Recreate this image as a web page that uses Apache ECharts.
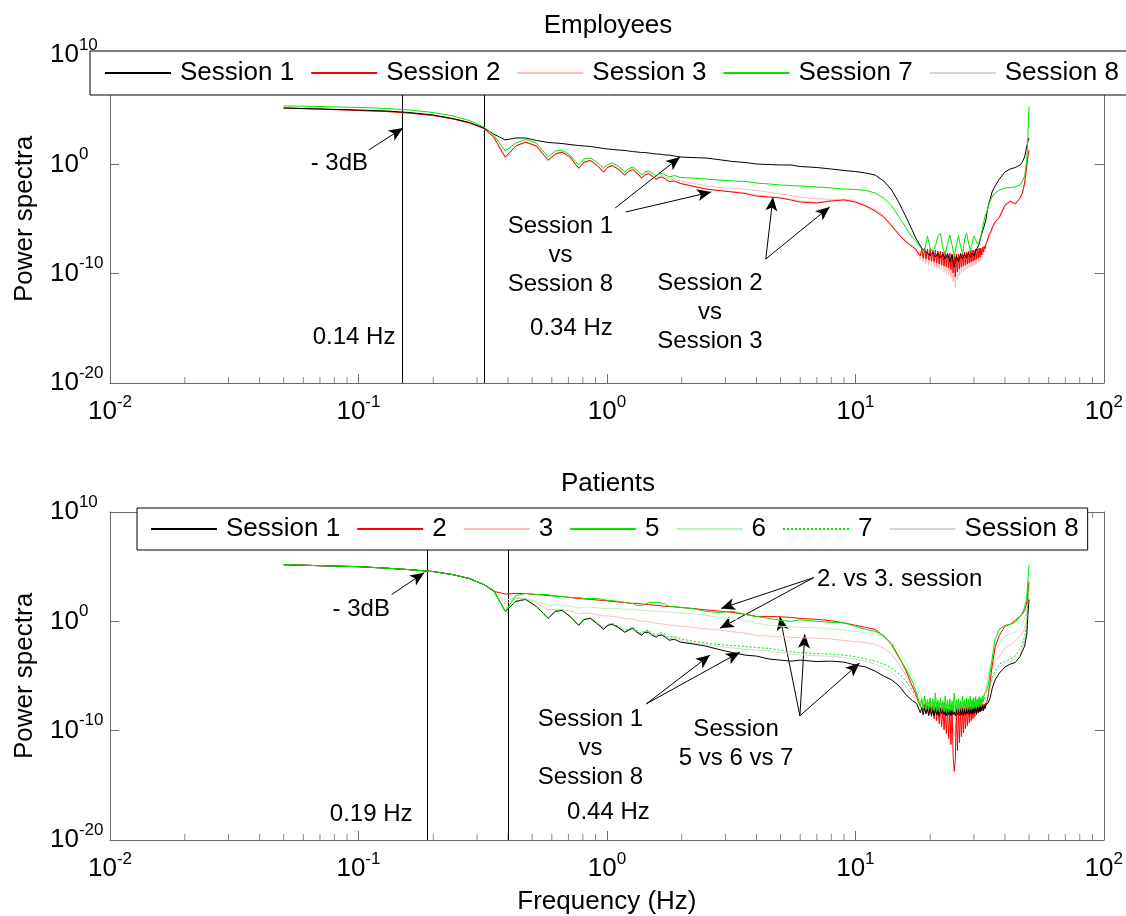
<!DOCTYPE html>
<html>
<head>
<meta charset="utf-8">
<title>Power spectra</title>
<script src="https://cdn.jsdelivr.net/npm/echarts@6/dist/echarts.min.js"></script>
<style>
  html, body { margin: 0; padding: 0; background: #fff; }
  #chart { width: 1126px; height: 916px; }
</style>
</head>
<body>
<div id="chart"></div>
<script>
// frequencies (Hz) outside the 18-35 Hz notch; first SPLIT entries lie below it
const FREQ_BROAD = [
  0.05, 0.07, 0.1, 0.13, 0.16, 0.2, 0.24, 0.28, 0.32, 0.35,
  0.39, 0.43, 0.47, 0.52, 0.58, 0.62, 0.66, 0.71, 0.77, 0.81, 0.86, 0.91, 0.97, 1.01, 1.05, 1.11,
  1.18, 1.22, 1.27, 1.32, 1.38, 1.42, 1.47, 1.52, 1.58, 1.62, 1.67, 1.72, 1.78, 1.87, 1.98,
  2.2, 2.5, 2.8, 3.2, 3.6, 4, 4.5, 5, 5.5, 6, 7, 8, 9, 10, 11, 12, 13, 14, 15, 16, 17,
  36.5, 38, 40, 42, 44, 46, 47, 48, 49, 49.5, 50
];
const SPLIT = 62;
// notch region, read at two resolutions
const NOTCH_COARSE = [
  17.5, 18, 18.5, 19, 19.5, 20, 20.5, 21, 21.5, 22, 22.5, 23, 23.5, 24, 24.5, 25, 25.5, 26, 26.5,
  27, 27.5, 28, 28.5, 29, 29.5, 30, 30.5, 31, 31.5, 32, 32.5, 33, 33.5, 34, 34.5, 35, 35.5
];
const NOTCH_FINE = [
  17.5, 17.75, 18, 18.25, 18.5, 18.75, 19, 19.25, 19.5, 19.75, 20, 20.25,
  20.5, 20.75, 21, 21.25, 21.5, 21.75, 22, 22.25, 22.5, 22.75, 23, 23.25,
  23.5, 23.75, 24, 24.25, 24.5, 24.75, 25, 25.25, 25.5, 25.75, 26, 26.25,
  26.5, 26.75, 27, 27.25, 27.5, 27.75, 28, 28.25, 28.5, 28.75, 29, 29.25,
  29.5, 29.75, 30, 30.25, 30.5, 30.75, 31, 31.25, 31.5, 31.75, 32, 32.25,
  32.5, 32.75, 33, 33.25, 33.5, 33.75, 34, 34.25, 34.5, 34.75, 35, 35.25,
  35.5
];

// ---- Employees: log10 of power ----
const EMP_S1 = [
  5.15, 5.06, 4.97, 4.88, 4.74, 4.51, 4.19, 3.83, 3.32, 2.77,
  2.23, 2.41, 2.41, 2.18, 2.00, 1.95, 1.90, 1.81, 1.72, 1.68, 1.63, 1.54, 1.45, 1.40, 1.36, 1.31,
  1.27, 1.22, 1.17, 1.13, 1.08, 1.08, 1.04, 0.99, 0.94, 0.94, 0.90, 0.85, 0.85, 0.76, 0.67,
  0.62, 0.58, 0.44, 0.26, 0.17, 0.03, -0.02, -0.06, -0.06, -0.20, -0.29, -0.43, -0.56, -0.66, -0.79, -0.98, -1.52, -2.35, -3.54, -4.82, -6.10,
  -1.98, -1.34, -0.70, -0.43, -0.29, -0.06, 0.21, 0.67, 1.68, 2.10, 2.40
];
const EMP_S1_NOTCH = [
  -6.74, -7.20, -7.65, -7.93, -8.11, -8.38, -8.02, -8.48, -8.11, -8.57, -8.20, -8.66, -8.20, -8.93, -8.29, -9.39, -8.38, -8.93, -8.20,
  -8.66, -8.20, -8.57, -8.11, -8.48, -8.11, -8.38, -7.93, -7.84, -7.29, -6.65, -6.10, -5.64, -5.09, -4.18, -3.54, -3.08, -2.53
];
const EMP_S2 = [
  5.15, 5.06, 4.92, 4.83, 4.69, 4.47, 4.15, 3.78, 3.28, 2.50,
  0.67, 1.68, 2.04, 1.68, 0.40, 0.94, 1.13, 0.67, -0.34, 0.21, 0.35, -0.06, -0.70, -0.24, -0.11, -0.43,
  -0.98, -0.66, -0.47, -0.79, -1.25, -0.98, -0.84, -1.07, -1.39, -1.20, -1.16, -1.34, -1.57, -1.52, -1.75,
  -1.98, -2.26, -2.39, -2.53, -2.67, -2.90, -2.99, -3.08, -3.26, -3.45, -3.54, -3.35, -3.26, -3.45, -3.81, -4.27, -4.82, -5.64, -6.46, -7.10, -7.56,
  -5.27, -4.82, -3.72, -3.35, -3.63, -3.08, -2.62, -1.71, -0.06, 0.80, 1.31
];
const EMP_S2_NOTCH = [
  -7.74, -8.02, -7.84, -8.38, -7.74, -8.57, -7.65, -8.66, -7.74, -8.75, -7.74, -8.84,
  -7.84, -8.93, -7.84, -9.02, -7.93, -9.11, -7.93, -9.21, -8.02, -9.30, -8.02, -9.39,
  -8.11, -9.48, -8.11, -9.66, -8.20, -9.94, -8.38, -10.31, -8.20, -9.85, -8.20, -9.57,
  -8.11, -9.39, -8.11, -9.30, -8.02, -9.21, -8.02, -9.11, -7.93, -9.02, -7.93, -8.93,
  -7.84, -8.84, -7.84, -8.75, -7.74, -8.66, -7.74, -8.57, -7.65, -8.48, -7.65, -8.29,
  -7.56, -8.02, -7.47, -7.74, -7.29, -7.38, -6.92, -6.83, -6.46, -6.37, -6.19, -6.01,
  -5.82
];
const EMP_S3 = [
  5.15, 5.06, 4.92, 4.83, 4.69, 4.47, 4.15, 3.78, 3.28, 2.50,
  0.60, 1.70, 2.06, 1.70, 0.35, 0.96, 1.15, 0.69, -0.40, 0.23, 0.37, -0.04, -0.75, -0.20, -0.08, -0.38,
  -1.00, -0.60, -0.40, -0.70, -1.20, -0.88, -0.74, -0.95, -1.30, -1.08, -1.02, -1.18, -1.40, -1.35, -1.52,
  -1.72, -1.95, -2.10, -2.20, -2.28, -2.40, -2.55, -2.70, -2.85, -3.00, -3.15, -3.20, -3.18, -3.35, -3.70, -4.15, -4.70, -5.50, -6.35, -7.00, -7.50,
  -5.35, -4.90, -3.85, -3.45, -3.55, -3.15, -2.70, -1.85, -0.30, 0.60, 1.10
];
const EMP_S3_NOTCH = [
  -7.84, -8.38, -7.93, -8.75, -7.93, -8.93, -7.84, -9.11, -7.93, -9.21, -7.93, -9.30,
  -8.02, -9.39, -8.02, -9.48, -8.11, -9.57, -8.11, -9.66, -8.20, -9.85, -8.20, -9.94,
  -8.29, -10.12, -8.29, -10.31, -8.38, -10.76, -8.57, -11.31, -8.38, -10.58, -8.38, -10.21,
  -8.29, -10.03, -8.29, -9.85, -8.20, -9.66, -8.20, -9.57, -8.11, -9.48, -8.11, -9.39,
  -8.02, -9.30, -8.02, -9.21, -7.93, -9.11, -7.93, -8.93, -7.84, -8.84, -7.84, -8.57,
  -7.74, -8.29, -7.65, -8.02, -7.47, -7.65, -7.10, -7.01, -6.65, -6.55, -6.37, -6.19,
  -6.01
];
const EMP_S7 = [
  5.34, 5.29, 5.20, 5.11, 4.97, 4.74, 4.42, 4.01, 3.41, 2.68,
  1.22, 1.95, 2.27, 1.95, 0.67, 1.22, 1.31, 0.85, -0.06, 0.49, 0.58, 0.21, -0.34, -0.02, 0.12, -0.15,
  -0.70, -0.43, -0.24, -0.52, -0.98, -0.70, -0.61, -0.79, -1.07, -0.88, -0.84, -0.98, -1.16, -1.02, -1.20,
  -1.25, -1.34, -1.43, -1.52, -1.57, -1.71, -1.80, -1.89, -1.94, -1.98, -2.07, -2.16, -2.26, -2.30, -2.39, -2.62, -3.08, -3.81, -4.82, -5.82, -6.74,
  -2.62, -2.35, -2.16, -2.12, -2.07, -1.89, -1.52, -1.07, 0.40, 2.68, 5.30
];
const EMP_S7_NOTCH = [
  -7.01, -7.38, -7.74, -7.93, -6.55, -7.65, -8.02, -7.47, -6.55, -6.28, -7.65, -8.20, -7.29, -6.46, -7.38, -8.48, -7.38, -6.55, -7.47,
  -8.20, -6.92, -6.28, -7.10, -7.93, -7.20, -6.55, -6.46, -7.29, -7.10, -6.55, -5.82, -5.09, -4.54, -4.18, -3.63, -3.26, -2.99
];
const EMP_S8 = [
  5.15, 5.06, 4.92, 4.83, 4.69, 4.47, 4.15, 3.78, 3.28, 2.45,
  0.50, 1.62, 2.00, 1.62, 0.25, 0.88, 1.08, 0.60, -0.48, 0.15, 0.30, -0.12, -0.82, -0.30, -0.16, -0.50,
  -1.08, -0.72, -0.52, -0.85, -1.32, -1.04, -0.90, -1.12, -1.46, -1.26, -1.22, -1.40, -1.62, -1.58, -1.80,
  -2.02, -2.24, -2.36, -2.48, -2.60, -2.80, -2.92, -3.02, -3.18, -3.36, -3.46, -3.30, -3.22, -3.42, -3.78, -4.22, -4.78, -5.60, -6.42, -7.06, -7.52,
  -5.30, -4.85, -3.78, -3.40, -3.60, -3.12, -2.66, -1.78, -0.20, 0.70, 1.20
];
const EMP_S8_NOTCH = [
  -7.80, -8.20, -7.88, -8.55, -7.84, -8.75, -7.74, -8.88, -7.84, -8.98, -7.84, -9.07,
  -7.93, -9.16, -7.93, -9.25, -8.02, -9.34, -8.02, -9.43, -8.11, -9.57, -8.11, -9.66,
  -8.20, -9.80, -8.20, -9.98, -8.29, -10.35, -8.48, -10.80, -8.29, -10.21, -8.29, -9.89,
  -8.20, -9.71, -8.20, -9.57, -8.11, -9.43, -8.11, -9.34, -8.02, -9.25, -8.02, -9.16,
  -7.93, -9.07, -7.93, -8.98, -7.84, -8.88, -7.84, -8.75, -7.74, -8.66, -7.74, -8.43,
  -7.65, -8.15, -7.56, -7.88, -7.38, -7.51, -7.01, -6.92, -6.55, -6.46, -6.28, -6.10,
  -5.91
];

// ---- Patients: log10 of power ----
const PAT_S1 = [
  5.18, 5.09, 5.00, 4.86, 4.73, 4.55, 4.27, 3.91, 3.36, 2.82,
  0.91, 1.82, 2.00, 1.36, 0.27, 0.91, 1.00, 0.45, -0.36, 0.18, 0.27, -0.18, -0.73, -0.36, -0.27, -0.55,
  -1.00, -0.82, -0.64, -1.00, -1.27, -1.00, -1.00, -1.27, -1.45, -1.27, -1.27, -1.45, -1.73, -1.64, -1.91,
  -2.05, -2.27, -2.55, -2.86, -3.09, -3.18, -3.45, -3.55, -3.64, -3.55, -3.68, -3.64, -3.73, -4.00, -4.18, -4.55, -5.00, -5.36, -5.91, -6.73, -7.27,
  -5.36, -4.73, -4.18, -3.91, -3.77, -3.20, -2.73, -2.27, -1.18, 0.64, 2.00
];
const PAT_S1_NOTCH = [
  -7.45, -7.64, -7.73, -8.36, -7.91, -8.55, -7.91, -8.45, -8.00, -8.64, -7.91, -8.55,
  -8.09, -8.64, -8.00, -8.55, -8.09, -8.64, -8.00, -8.45, -8.09, -8.55, -8.18, -8.64,
  -8.09, -8.55, -8.18, -8.64, -8.09, -8.55, -8.27, -8.64, -8.09, -8.55, -8.18, -8.64,
  -8.09, -8.55, -8.00, -8.64, -8.09, -8.55, -8.00, -8.45, -8.09, -8.55, -7.91, -8.45,
  -8.00, -8.45, -7.91, -8.36, -8.00, -8.45, -7.82, -8.36, -7.91, -8.27, -7.82, -8.18,
  -7.73, -8.18, -7.73, -8.00, -7.64, -7.82, -7.64, -7.45, -7.27, -7.09, -6.82, -6.55,
  -6.18
];
const PAT_S2 = [
  5.18, 5.09, 5.00, 4.86, 4.73, 4.55, 4.27, 3.91, 3.36, 2.75,
  2.50, 2.55, 2.55, 2.45, 2.36, 2.32, 2.27, 2.18, 2.09, 2.05, 2.00, 1.95, 1.91, 1.86, 1.82, 1.77,
  1.73, 1.68, 1.64, 1.64, 1.59, 1.55, 1.55, 1.50, 1.45, 1.45, 1.41, 1.36, 1.36, 1.32, 1.27,
  1.18, 1.05, 0.95, 0.82, 0.64, 0.45, 0.45, 0.41, 0.36, 0.27, 0.18, 0.05, -0.14, -0.36, -0.55, -0.73, -1.36, -2.09, -3.27, -4.55, -6.00,
  -2.36, -1.27, -0.45, -0.27, 0.09, 0.45, 0.64, 1.00, 1.73, 2.80, 3.50
];
const PAT_S2_NOTCH = [
  -6.64, -7.09, -7.27, -7.73, -7.55, -8.18, -7.64, -8.36, -7.73, -8.55, -7.73, -8.73,
  -7.82, -8.91, -7.82, -9.09, -7.82, -9.36, -7.91, -9.64, -7.91, -9.91, -7.91, -10.27,
  -8.00, -10.73, -8.00, -11.27, -8.00, -12.36, -13.73, -12.73, -8.00, -11.82, -8.00, -11.09,
  -7.91, -10.55, -7.91, -10.18, -7.91, -9.82, -7.91, -9.55, -7.82, -9.27, -7.82, -9.09,
  -7.82, -8.91, -7.73, -8.73, -7.73, -8.55, -7.73, -8.36, -7.64, -8.27, -7.64, -8.18,
  -7.55, -8.00, -7.55, -7.91, -7.45, -7.64, -7.09, -6.82, -6.18, -5.80, -5.27, -4.70,
  -4.18
];
const PAT_S3 = [
  5.18, 5.09, 5.00, 4.86, 4.73, 4.55, 4.27, 3.91, 3.36, 2.78,
  1.60, 2.10, 2.05, 1.70, 1.05, 1.10, 1.08, 0.95, 0.70, 0.75, 0.72, 0.62, 0.48, 0.50, 0.45, 0.38,
  0.25, 0.25, 0.20, 0.12, 0.02, 0.00, -0.05, -0.10, -0.18, -0.20, -0.24, -0.28, -0.33, -0.38, -0.45,
  -0.55, -0.68, -0.80, -0.95, -1.08, -1.30, -1.35, -1.40, -1.45, -1.50, -1.55, -1.62, -1.75, -1.85, -1.95, -2.10, -2.45, -3.00, -3.90, -5.00, -6.10,
  -3.64, -3.18, -2.45, -2.18, -1.73, -1.36, -1.09, -0.64, 0.18, 1.73, 3.09
];
const PAT_S3_NOTCH = [
  -6.50, -6.80, -7.30, -7.00, -7.70, -7.20, -8.00, -7.30, -8.20, -7.40, -8.40, -7.50, -8.70, -7.55, -9.20, -10.50, -9.20, -7.60, -8.80,
  -7.50, -8.50, -7.45, -8.30, -7.40, -8.10, -7.35, -7.95, -7.30, -7.80, -7.20, -7.50, -6.70, -6.30, -5.60, -4.95, -4.40, -4.05
];
const PAT_S5 = [
  5.18, 5.09, 5.00, 4.86, 4.73, 4.55, 4.27, 3.91, 3.36, 2.82,
  0.91, 2.36, 2.55, 2.45, 2.45, 2.27, 2.27, 2.18, 2.18, 2.09, 2.09, 2.09, 2.00, 1.91, 1.91, 1.82,
  1.73, 1.64, 1.64, 1.45, 1.45, 1.55, 1.73, 1.73, 1.73, 1.73, 1.64, 1.55, 1.36, 1.36, 1.27,
  1.18, 0.91, 0.82, 0.91, 0.64, 0.45, 0.27, 0.09, 0.00, 0.14, 0.00, -0.09, -0.14, -0.45, -0.73, -0.91, -1.27, -2.18, -3.36, -4.36, -5.55,
  -1.64, -0.73, -0.36, -0.27, -0.09, 0.45, 0.73, 1.27, 2.27, 3.82, 5.18
];
const PAT_S5_NOTCH = [
  -6.36, -6.82, -7.00, -7.82, -7.09, -8.00, -6.82, -8.09, -7.18, -8.00, -7.00, -8.18,
  -7.09, -8.09, -6.55, -8.18, -7.18, -8.27, -7.00, -8.18, -7.27, -8.27, -6.82, -8.18,
  -7.18, -8.27, -7.09, -8.18, -7.27, -8.27, -6.55, -8.27, -7.18, -8.18, -7.09, -8.27,
  -7.27, -8.18, -6.82, -8.09, -7.18, -8.18, -7.00, -8.09, -7.09, -8.00, -6.82, -8.09,
  -7.18, -8.00, -7.00, -7.91, -6.91, -7.82, -7.09, -7.82, -6.91, -7.73, -7.00, -7.64,
  -6.82, -7.36, -6.64, -6.82, -6.55, -6.36, -6.18, -5.82, -5.45, -4.90, -4.36, -3.90,
  -3.45
];
const PAT_S6 = [
  5.18, 5.09, 5.00, 4.86, 4.73, 4.55, 4.27, 3.91, 3.36, 2.78,
  1.90, 2.20, 2.10, 1.85, 1.40, 1.50, 1.48, 1.38, 1.20, 1.30, 1.30, 1.25, 1.15, 1.20, 1.20, 1.16,
  1.10, 1.12, 1.10, 1.05, 1.00, 1.00, 0.98, 0.95, 0.92, 0.92, 0.90, 0.87, 0.85, 0.82, 0.78,
  0.73, 0.55, 0.36, 0.23, 0.09, -0.18, -0.36, -0.45, -0.50, -0.55, -0.59, -0.68, -0.82, -0.91, -1.05, -1.18, -1.36, -1.91, -2.73, -3.82, -5.09,
  -2.73, -2.09, -1.36, -1.18, -1.00, -0.55, -0.27, 0.18, 1.09, 2.45, 3.82
];
const PAT_S6_NOTCH = [
  -5.82, -6.27, -6.91, -7.27, -7.09, -7.64, -7.27, -7.91, -7.36, -8.00, -7.45, -8.09, -7.55, -8.18, -7.64, -8.36, -7.64, -8.18, -7.55,
  -8.09, -7.45, -8.00, -7.36, -7.91, -7.27, -7.82, -7.18, -7.64, -7.09, -7.45, -7.00, -7.09, -6.64, -5.64, -4.55, -4.18, -3.45
];
const PAT_S7 = [
  5.18, 5.09, 5.00, 4.86, 4.73, 4.55, 4.27, 3.91, 3.36, 2.82,
  0.95, 1.86, 2.04, 1.40, 0.32, 0.95, 1.04, 0.50, -0.30, 0.24, 0.33, -0.10, -0.64, -0.27, -0.18, -0.45,
  -0.88, -0.70, -0.52, -0.86, -1.10, -0.84, -0.82, -1.08, -1.25, -1.08, -1.05, -1.22, -1.45, -1.38, -1.60,
  -1.80, -2.00, -2.12, -2.22, -2.30, -2.40, -2.48, -2.64, -2.77, -2.86, -2.95, -3.00, -3.09, -3.23, -3.45, -3.64, -3.91, -4.27, -4.82, -5.45, -6.36,
  -4.55, -3.91, -3.64, -3.45, -3.18, -2.55, -2.09, -1.36, -0.09, 2.00, 3.80
];
const PAT_S7_NOTCH = [
  -6.82, -7.09, -7.55, -7.20, -7.70, -7.30, -7.80, -7.35, -7.85, -7.40, -7.90, -7.45, -7.95, -7.50, -7.95, -7.80, -7.95, -7.45, -7.90,
  -7.40, -7.85, -7.35, -7.80, -7.30, -7.75, -7.25, -7.70, -7.20, -7.60, -7.15, -7.45, -7.05, -7.20, -7.00, -6.30, -5.60, -5.10
];
const PAT_S8 = [
  5.18, 5.09, 5.00, 4.86, 4.73, 4.55, 4.27, 3.91, 3.36, 2.80,
  0.92, 1.84, 2.02, 1.38, 0.30, 0.93, 1.02, 0.48, -0.33, 0.21, 0.30, -0.14, -0.68, -0.31, -0.22, -0.50,
  -0.94, -0.76, -0.58, -0.93, -1.18, -0.92, -0.91, -1.17, -1.35, -1.18, -1.16, -1.33, -1.58, -1.50, -1.74,
  -1.98, -2.15, -2.30, -2.45, -2.55, -2.60, -2.70, -2.85, -2.98, -3.05, -3.15, -3.20, -3.30, -3.45, -3.68, -3.90, -4.25, -4.70, -5.30, -6.00, -6.80,
  -4.80, -4.20, -3.85, -3.65, -3.45, -2.90, -2.50, -1.80, -0.60, 1.20, 3.00
];
const PAT_S8_NOTCH = [
  -7.15, -7.40, -7.90, -7.50, -8.10, -7.60, -8.20, -7.65, -8.25, -7.70, -8.30, -7.75, -8.40, -7.80, -8.60, -9.00, -8.60, -7.80, -8.40,
  -7.75, -8.30, -7.70, -8.25, -7.65, -8.20, -7.60, -8.10, -7.55, -8.00, -7.50, -7.85, -7.40, -7.55, -7.20, -6.60, -5.90, -5.30
];

// minor tick positions on the frequency axis
const MINOR_TICKS = [
  0.02, 0.03, 0.04, 0.05, 0.06, 0.07, 0.08, 0.09,
  0.2, 0.3, 0.4, 0.5, 0.6, 0.7, 0.8, 0.9,
  2, 3, 4, 5, 6, 7, 8, 9,
  20, 30, 40, 50, 60, 70, 80, 90
];

// annotations: cut-off lines (Hz), arrows [[f, log10 P] -> [f, log10 P]], texts [text, f, log10 P]
const EMP_VLINES = [0.155, 0.316];
const EMP_ARROWS = [
  [[0.110, 1.31], [0.151, 3.32]],
  [[1.08, -3.99], [1.97, 0.67]],
  [[1.19, -4.36], [2.63, -2.53]],
  [[4.36, -8.66], [4.66, -2.99]],
  [[4.36, -8.66], [7.88, -3.90]]
];
const EMP_TEXTS = [
  ['- 3dB', 0.0838, 0.12],
  ['0.14 Hz', 0.096, -15.79],
  ['0.34 Hz', 0.72, -14.97],
  ['Session 1\nvs\nSession 8', 0.65, -8.29],
  ['Session 2\nvs\nSession 3', 2.60, -13.51]
];
const PAT_VLINES = [0.19, 0.40];
const PAT_ARROWS = [
  [[0.136, 2.45], [0.184, 4.45]],
  [[1.44, -7.55], [2.60, -3.09]],
  [[1.44, -7.55], [3.43, -2.82]],
  [[5.98, -8.64], [4.97, 0.45]],
  [[5.98, -8.64], [6.26, -1.18]],
  [[5.98, -8.64], [10.4, -3.82]],
  [[6.80, 4.0], [2.88, 1.18]],
  [[6.80, 4.0], [2.85, -0.64]]
];
const PAT_TEXTS = [
  ['- 3dB', 0.1026, 1.09],
  ['0.19 Hz', 0.1125, -17.64],
  ['0.44 Hz', 1.014, -17.45],
  ['Session 1\nvs\nSession 8', 0.859, -11.64],
  ['Session\n5 vs 6 vs 7', 3.31, -11.18],
  ['2. vs 3. session', 15.07, 3.82]
];

const FONT = "'Liberation Sans', Arial, sans-serif";
const AXIS_COLOR = '#6a6a6a';
const GREEN = '#00e600';

function check(name, arr, n) {
  if (arr.length !== n) throw new Error(name + ' has ' + arr.length + ' values, expected ' + n);
}
[['EMP_S1', EMP_S1], ['EMP_S2', EMP_S2], ['EMP_S3', EMP_S3], ['EMP_S7', EMP_S7], ['EMP_S8', EMP_S8],
 ['PAT_S1', PAT_S1], ['PAT_S2', PAT_S2], ['PAT_S3', PAT_S3], ['PAT_S5', PAT_S5], ['PAT_S6', PAT_S6],
 ['PAT_S7', PAT_S7], ['PAT_S8', PAT_S8]].forEach(([n, a]) => check(n, a, FREQ_BROAD.length));
[['EMP_S1_NOTCH', EMP_S1_NOTCH], ['EMP_S7_NOTCH', EMP_S7_NOTCH], ['PAT_S3_NOTCH', PAT_S3_NOTCH],
 ['PAT_S6_NOTCH', PAT_S6_NOTCH], ['PAT_S7_NOTCH', PAT_S7_NOTCH], ['PAT_S8_NOTCH', PAT_S8_NOTCH]]
  .forEach(([n, a]) => check(n, a, NOTCH_COARSE.length));
[['EMP_S2_NOTCH', EMP_S2_NOTCH], ['EMP_S3_NOTCH', EMP_S3_NOTCH], ['EMP_S8_NOTCH', EMP_S8_NOTCH],
 ['PAT_S1_NOTCH', PAT_S1_NOTCH], ['PAT_S2_NOTCH', PAT_S2_NOTCH], ['PAT_S5_NOTCH', PAT_S5_NOTCH]]
  .forEach(([n, a]) => check(n, a, NOTCH_FINE.length));

const pt = (f, e) => [f, Math.pow(10, e)];

function spectrumData(broad, notchFreq, notch) {
  const head = FREQ_BROAD.slice(0, SPLIT).map((f, i) => pt(f, broad[i]));
  const mid = notchFreq.map((f, i) => pt(f, notch[i]));
  const tail = FREQ_BROAD.slice(SPLIT).map((f, i) => pt(f, broad[SPLIT + i]));
  return head.concat(mid, tail);
}

const expLabel = v => '{b|10}{s|' + Math.round(Math.log10(v)) + '}';
const RICH = {
  b: { fontSize: 26, fontFamily: FONT, color: '#000', lineHeight: 28 },
  s: { fontSize: 17, fontFamily: FONT, color: '#000', lineHeight: 28, padding: [0, 0, 20, 0] }
};

function spectrum(name, data, color, gi, dash) {
  return {
    type: 'line', name, xAxisIndex: gi * 2, yAxisIndex: gi * 2,
    data,
    symbol: 'none', showSymbol: false, silent: true,
    lineStyle: { color, width: 1, type: dash || 'solid' },
    itemStyle: { color },
    emphasis: { disabled: true }
  };
}

function minorTicks(gi) {
  const base = {
    type: 'scatter', xAxisIndex: gi * 2, yAxisIndex: gi * 2, silent: true, clip: false,
    symbol: 'rect', symbolSize: [1, 6], itemStyle: { color: AXIS_COLOR }, z: 1
  };
  return [
    Object.assign({}, base, { data: MINOR_TICKS.map(f => [f, 1e-20]), symbolOffset: [0, -3] }),
    Object.assign({}, base, { data: MINOR_TICKS.map(f => [f, 1e10]), symbolOffset: [0, 3] })
  ];
}

function notes(gi, vlines, arrows, texts) {
  return [{
    type: 'line', data: [], xAxisIndex: gi * 2, yAxisIndex: gi * 2, silent: true,
    markLine: {
      silent: true, symbol: 'none', label: { show: false }, z: 3,
      lineStyle: { color: '#000', width: 1, type: 'solid' },
      emphasis: { disabled: true },
      data: vlines.map(f => ({ xAxis: f }))
    }
  }, {
    type: 'line', data: [], xAxisIndex: gi * 2, yAxisIndex: gi * 2, silent: true,
    markLine: {
      silent: true, symbol: ['none', 'arrow'], symbolSize: [9, 14], label: { show: false }, z: 3,
      lineStyle: { color: '#000', width: 1, type: 'solid' },
      itemStyle: { color: '#000' },
      emphasis: { disabled: true },
      data: arrows.map(([a, b]) => [{ coord: pt(a[0], a[1]) }, { coord: pt(b[0], b[1]) }])
    },
    markPoint: {
      silent: true, symbol: 'rect', symbolSize: 1, z: 3,
      itemStyle: { color: 'rgba(0,0,0,0)' },
      label: {
        show: true, position: 'inside', formatter: p => p.name,
        color: '#000', fontSize: 24, fontFamily: FONT, lineHeight: 29, align: 'center'
      },
      emphasis: { disabled: true },
      data: texts.map(([t, f, e]) => ({ name: t, coord: pt(f, e) }))
    }
  }];
}

function xAxes(gi, name) {
  const base = {
    type: 'log', logBase: 10, min: 0.01, max: 100, gridIndex: gi,
    axisLine: { show: true, lineStyle: { color: AXIS_COLOR, width: 1 } },
    axisTick: { show: true, inside: true, length: 9, lineStyle: { color: AXIS_COLOR } },
    splitLine: { show: false }
  };
  return [
    Object.assign({}, base, {
      position: 'bottom',
      axisLabel: { show: true, margin: 15, formatter: expLabel, rich: RICH, showMinLabel: true, showMaxLabel: true },
      name: name, nameLocation: 'middle', nameGap: 49,
      nameTextStyle: { fontSize: 26, fontFamily: FONT, color: '#000' }
    }),
    Object.assign({}, base, { position: 'top', axisLabel: { show: false } })
  ];
}

function yAxes(gi) {
  const base = {
    type: 'log', logBase: 10, min: 1e-20, max: 1e10, splitNumber: 3, gridIndex: gi,
    axisLine: { show: true, lineStyle: { color: AXIS_COLOR, width: 1 } },
    axisTick: { show: true, inside: true, length: 9, lineStyle: { color: AXIS_COLOR } },
    splitLine: { show: false }
  };
  return [
    Object.assign({}, base, {
      position: 'left',
      axisLabel: { show: true, align: 'left', margin: 60, formatter: expLabel, rich: RICH, showMinLabel: true, showMaxLabel: true },
      name: 'Power spectra', nameLocation: 'middle', nameGap: 72, nameRotate: 90,
      nameTextStyle: { fontSize: 26, fontFamily: FONT, color: '#000' }
    }),
    Object.assign({}, base, { position: 'right', axisLabel: { show: false } })
  ];
}

const legendBase = {
  orient: 'horizontal', itemWidth: 66, itemHeight: 14, itemGap: 16, z: 20,
  backgroundColor: '#fff', borderColor: '#000', borderWidth: 1,
  selectedMode: false,
  itemStyle: { opacity: 0 },
  textStyle: { fontSize: 26, fontFamily: FONT, color: '#000', padding: [0, 0, 0, 4] }
};

const option = {
  animation: false,
  backgroundColor: '#fff',
  textStyle: { fontFamily: FONT },
  title: [
    { text: 'Employees', left: 608, top: 13, textAlign: 'center', padding: 0,
      textStyle: { fontSize: 26, fontWeight: 'normal', fontFamily: FONT, color: '#000' } },
    { text: 'Patients', left: 608, top: 471, textAlign: 'center', padding: 0,
      textStyle: { fontSize: 26, fontWeight: 'normal', fontFamily: FONT, color: '#000' } }
  ],
  legend: [
    Object.assign({}, legendBase, {
      left: 90, top: 51, width: 1060, padding: [9, 9, 9, 14],
      data: ['Session 1', 'Session 2', 'Session 3', 'Session 7', 'Session 8']
    }),
    Object.assign({}, legendBase, {
      left: 137, top: 508, width: 1000, padding: [8, 9, 8, 13],
      data: ['Session 1', '2', '3', '5', '6', '7', 'Session 8']
    })
  ],
  grid: [
    { left: 110, right: 19, top: 55, height: 328 },
    { left: 110, right: 19, top: 512, height: 330 }
  ],
  xAxis: [...xAxes(0, ''), ...xAxes(1, 'Frequency (Hz)')],
  yAxis: [...yAxes(0), ...yAxes(1)],
  series: [
    ...minorTicks(0),
    ...minorTicks(1),
    spectrum('Session 8', spectrumData(EMP_S8, NOTCH_FINE, EMP_S8_NOTCH), '#d6d6d6', 0),
    spectrum('Session 3', spectrumData(EMP_S3, NOTCH_FINE, EMP_S3_NOTCH), '#ffbcbc', 0),
    spectrum('Session 2', spectrumData(EMP_S2, NOTCH_FINE, EMP_S2_NOTCH), '#ff0000', 0),
    spectrum('Session 1', spectrumData(EMP_S1, NOTCH_COARSE, EMP_S1_NOTCH), '#000000', 0),
    spectrum('Session 7', spectrumData(EMP_S7, NOTCH_COARSE, EMP_S7_NOTCH), GREEN, 0),
    spectrum('Session 8', spectrumData(PAT_S8, NOTCH_COARSE, PAT_S8_NOTCH), '#d6d6d6', 1),
    spectrum('3', spectrumData(PAT_S3, NOTCH_COARSE, PAT_S3_NOTCH), '#ffbcbc', 1),
    spectrum('6', spectrumData(PAT_S6, NOTCH_COARSE, PAT_S6_NOTCH), '#b9f2b9', 1),
    spectrum('2', spectrumData(PAT_S2, NOTCH_FINE, PAT_S2_NOTCH), '#ff0000', 1),
    spectrum('Session 1', spectrumData(PAT_S1, NOTCH_FINE, PAT_S1_NOTCH), '#000000', 1),
    spectrum('7', spectrumData(PAT_S7, NOTCH_COARSE, PAT_S7_NOTCH), GREEN, 1, [2, 2]),
    spectrum('5', spectrumData(PAT_S5, NOTCH_FINE, PAT_S5_NOTCH), GREEN, 1),
    ...notes(0, EMP_VLINES, EMP_ARROWS, EMP_TEXTS),
    ...notes(1, PAT_VLINES, PAT_ARROWS, PAT_TEXTS)
  ]
};

const chart = echarts.init(document.getElementById('chart'), null, { renderer: 'canvas' });
chart.setOption(option);
</script>
</body>
</html>
